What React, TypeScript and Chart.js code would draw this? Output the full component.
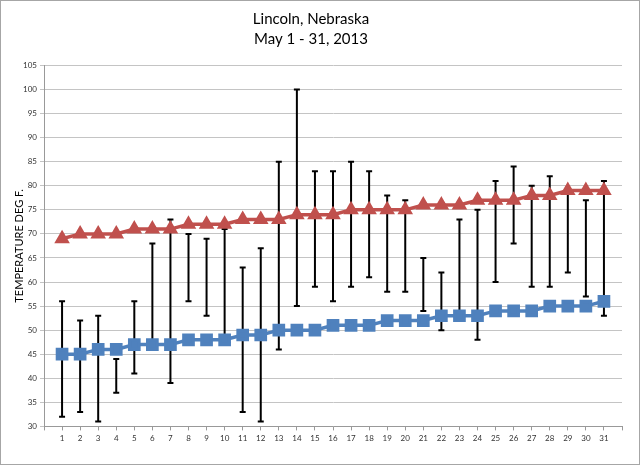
import React, { useEffect, useRef } from 'react';
import Chart from 'chart.js/auto';

// days of May 2013
const DAYS = [1, 2, 3, 4, 5, 6, 7, 8, 9, 10, 11, 12, 13, 14, 15, 16, 17, 18, 19, 20, 21, 22, 23, 24, 25, 26, 27, 28, 29, 30, 31];

// normal high / low
const NORMAL_HIGH = [69, 70, 70, 70, 71, 71, 71, 72, 72, 72, 73, 73, 73, 74, 74, 74, 75, 75, 75, 75, 76, 76, 76, 77, 77, 77, 78, 78, 79, 79, 79];
const NORMAL_LOW = [45, 45, 46, 46, 47, 47, 47, 48, 48, 48, 49, 49, 50, 50, 50, 51, 51, 51, 52, 52, 52, 53, 53, 53, 54, 54, 54, 55, 55, 55, 56];

// actual daily range
const ACTUAL_HIGH = [56, 52, 53, 44, 56, 68, 73, 70, 69, 71, 63, 67, 85, 100, 83, 83, 85, 83, 78, 77, 65, 62, 73, 75, 81, 84, 80, 82, 79, 77, 81];
const ACTUAL_LOW = [32, 33, 31, 37, 41, 47, 39, 56, 53, 48, 33, 31, 46, 55, 59, 56, 59, 61, 58, 58, 54, 50, 52, 48, 60, 68, 59, 59, 62, 57, 53];

const Y_MIN = 30;
const Y_MAX = 105;

const FONT = 'Lato, "Open Sans", sans-serif';

export default function App() {
  const canvasRef = useRef<HTMLCanvasElement>(null);
  const chartRef = useRef<Chart | null>(null);

  useEffect(() => {
    document.body.style.margin = '0';
    if (!canvasRef.current) return;
    if (chartRef.current) chartRef.current.destroy();

    // range bars: low -> high, broken by a null
    const ranges: { x: number; y: number | null }[] = [];
    DAYS.forEach((d, i) => {
      ranges.push({ x: d, y: ACTUAL_LOW[i] });
      ranges.push({ x: d, y: ACTUAL_HIGH[i] });
      ranges.push({ x: d, y: null });
    });

    chartRef.current = new Chart(canvasRef.current, {
      type: 'line',
      data: {
        datasets: [
          {
            label: 'Normal High',
            data: DAYS.map((d, i) => ({ x: d, y: NORMAL_HIGH[i] })),
            borderColor: '#C0504D',
            backgroundColor: '#C0504D',
            pointBorderColor: '#C0504D',
            borderWidth: 3.5,
            pointStyle: 'triangle',
            pointRadius: 5.5,
            order: 2,
          },
          {
            label: 'Normal Low',
            data: DAYS.map((d, i) => ({ x: d, y: NORMAL_LOW[i] })),
            borderColor: '#4F81BD',
            backgroundColor: '#4F81BD',
            pointBorderColor: '#4F81BD',
            borderWidth: 3.5,
            pointStyle: 'rect',
            pointRadius: 6.5,
            order: 1,
          },
          {
            label: 'Actual',
            data: ranges,
            borderColor: '#000000',
            borderWidth: 2,
            spanGaps: false,
            pointStyle: 'line',
            pointRadius: 3,
            pointBorderWidth: 2,
            pointBorderColor: '#000000',
            order: 3,
          },
        ],
      },
      options: {
        animation: false,
        responsive: true,
        maintainAspectRatio: false,
        layout: { padding: { left: 0, right: 18, top: 0, bottom: 19 } },
        plugins: {
          legend: { display: false },
          tooltip: { enabled: false },
          title: {
            display: true,
            text: ['Lincoln, Nebraska', 'May 1 - 31, 2013'],
            color: '#000000',
            font: { family: FONT, size: 15, weight: 'normal', lineHeight: 1.35 },
            padding: { top: 9, bottom: 16 },
          },
        },
        scales: {
          x: {
            type: 'linear',
            min: 0,
            max: 32,
            ticks: {
              stepSize: 1,
              autoSkip: false,
              maxRotation: 0,
              color: '#333333',
              font: { family: FONT, size: 8 },
              padding: 3,
              callback: (v: any) => (v >= 1 && v <= 31 ? String(v) : ''),
            },
            grid: { display: true, drawOnChartArea: false, color: '#999999', tickLength: 4 },
            border: { color: '#999999' },
          },
          y: {
            min: Y_MIN,
            max: Y_MAX,
            ticks: {
              stepSize: 5,
              color: '#333333',
              font: { family: FONT, size: 8 },
              padding: 3,
            },
            grid: { color: '#c4c4c4', tickLength: 4 },
            border: { color: '#999999' },
            title: {
              display: true,
              text: 'TEMPERATURE DEG F.',
              color: '#000000',
              font: { family: FONT, size: 11 },
              padding: { top: 13, bottom: 0 },
            },
            afterFit: (scale: any) => {
              scale.width = 44;
            },
          },
        },
      },
    });

    return () => {
      if (chartRef.current) {
        chartRef.current.destroy();
        chartRef.current = null;
      }
    };
  }, []);

  return (
    <div
      style={{
        position: 'relative',
        width: 640,
        height: 465,
        boxShadow: 'inset 0 0 0 1px #a6a6a6',
        background: '#ffffff',
      }}
    >
      <canvas ref={canvasRef} />
    </div>
  );
}
